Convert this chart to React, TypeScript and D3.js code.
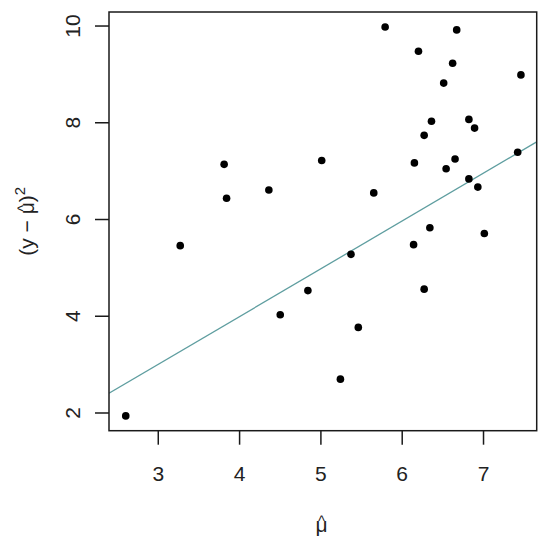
import React from "react";
import * as d3 from "d3";

const muHat = [2.60, 3.27, 3.81, 3.84, 4.36, 4.50, 4.84, 5.01, 5.24, 5.37, 5.46, 5.65, 5.79, 6.14, 6.15, 6.20, 6.27, 6.27, 6.34, 6.36, 6.51, 6.54, 6.62, 6.65, 6.67, 6.82, 6.82, 6.89, 6.93, 7.01, 7.42, 7.46];
const sqResid = [1.94, 5.46, 7.14, 6.44, 6.61, 4.03, 4.53, 7.22, 2.70, 5.28, 3.77, 6.55, 9.98, 5.48, 7.17, 9.48, 7.74, 4.56, 5.83, 8.03, 8.82, 7.05, 9.23, 7.25, 9.92, 8.07, 6.84, 7.89, 6.67, 5.71, 7.39, 8.99];
const xTicks = [3, 4, 5, 6, 7];
const yTicks = [2, 4, 6, 8, 10];
const lineIntercept = 0.042;
const lineSlope = 0.988;

export default function App() {
  const W = 550, H = 544;
  const left = 109, right = 536.7, top = 12, bottom = 430.7;
  const x = d3.scaleLinear().domain([2.394, 7.654]).range([left, right]);
  const y = d3.scaleLinear().domain([1.634, 10.29]).range([bottom, top]);
  const font = "'Liberation Sans', Arial, sans-serif";
  const [x0, x1] = x.domain();
  const lineGen = d3.line<number>().x((d) => x(d)).y((d) => y(lineIntercept + lineSlope * d));
  const yc = (top + bottom) / 2;
  const xc = (left + right) / 2;
  return (
    <svg width={W} height={H} style={{ position: "absolute", left: 0, top: 0, background: "#fff" }} fontFamily={font}>
      <defs>
        <clipPath id="plotclip">
          <rect x={left} y={top} width={right - left} height={bottom - top} />
        </clipPath>
      </defs>
      <rect x={0} y={0} width={W} height={H} fill="#fff" />
      <path d={lineGen([x0, x1]) || ""} stroke="#5F9EA0" strokeWidth={1.3} fill="none" clipPath="url(#plotclip)" />
      {muHat.map((v, i) => (
        <circle key={i} cx={x(v)} cy={y(sqResid[i])} r={3.8} fill="#000" />
      ))}
      <rect x={left} y={top} width={right - left} height={bottom - top} fill="none" stroke="#1a1a1a" strokeWidth={1.5} />
      {xTicks.map((t) => (
        <g key={"x" + t}>
          <line x1={x(t)} x2={x(t)} y1={bottom} y2={bottom + 14} stroke="#1a1a1a" strokeWidth={1.5} />
          <text x={x(t)} y={481} textAnchor="middle" fontSize={21} fill="#222">{t}</text>
        </g>
      ))}
      {yTicks.map((t) => (
        <g key={"y" + t}>
          <line x1={left - 14} x2={left} y1={y(t)} y2={y(t)} stroke="#1a1a1a" strokeWidth={1.5} />
          <text transform={`translate(80,${y(t)}) rotate(-90)`} textAnchor="middle" fontSize={21} fill="#222">{t}</text>
        </g>
      ))}
      <text x={xc - 1.4} y={532} textAnchor="middle" fontSize={21} fill="#222">
        <tspan>μ</tspan>
        <tspan dx={-9.35} dy={-6.5} fontSize={14}>^</tspan>
      </text>
      <text transform={`translate(34,${yc}) rotate(-90)`} textAnchor="middle" fontSize={21} fill="#222">
        <tspan>{"(y − μ"}</tspan>
        <tspan dx={-9.35} dy={-6.5} fontSize={14}>^</tspan>
        <tspan dx={2.75} dy={6.5}>)</tspan>
        <tspan dy={-9} fontSize={15}>2</tspan>
      </text>
    </svg>
  );
}
